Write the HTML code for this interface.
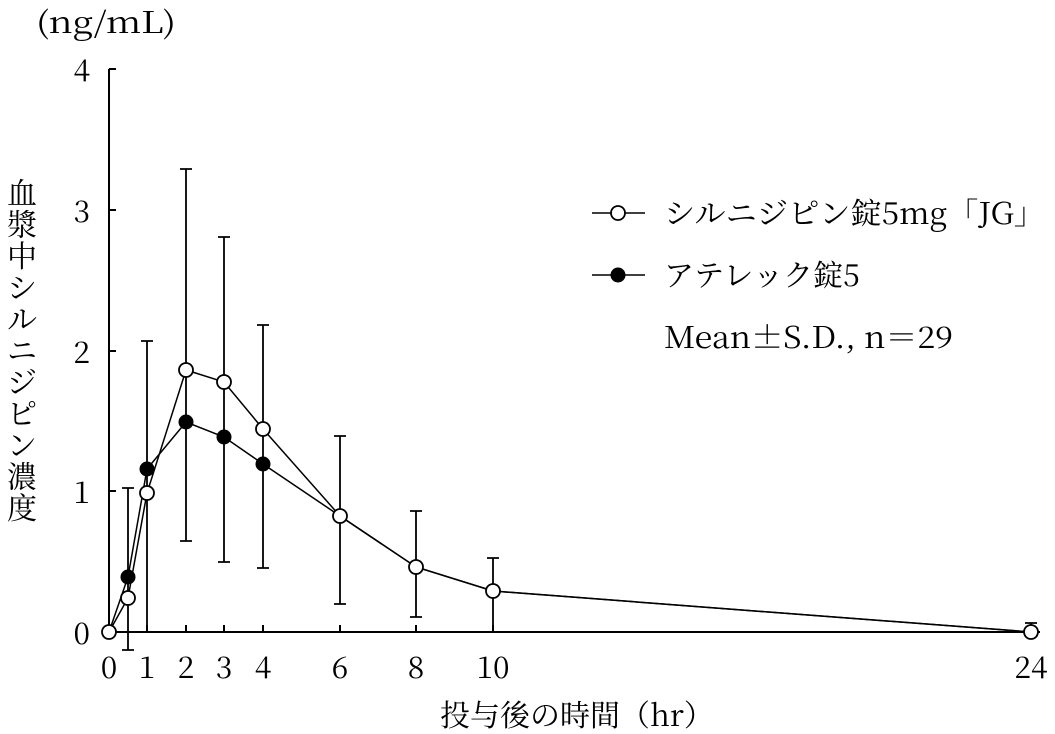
<!DOCTYPE html>
<html><head><meta charset="utf-8"><style>body{margin:0;background:#fff}svg{display:block}text{font-family:"Noto Serif CJK SC","Liberation Serif",serif;fill:#000}</style></head><body>
<svg width="1055" height="734" xmlns="http://www.w3.org/2000/svg">
<g stroke="#000" stroke-width="2" fill="none">
<line x1="109" y1="69" x2="109" y2="632"/>
<line x1="109" y1="632" x2="1040" y2="632"/>
<line x1="109" y1="69" x2="116" y2="69"/><line x1="109" y1="210" x2="116" y2="210"/><line x1="109" y1="351" x2="116" y2="351"/><line x1="109" y1="491" x2="116" y2="491"/>
<line x1="147" y1="632" x2="147" y2="625"/><line x1="186" y1="632" x2="186" y2="625"/><line x1="224" y1="632" x2="224" y2="625"/><line x1="263" y1="632" x2="263" y2="625"/><line x1="340" y1="632" x2="340" y2="625"/><line x1="416" y1="632" x2="416" y2="625"/><line x1="493" y1="632" x2="493" y2="625"/><line x1="1031" y1="632" x2="1031" y2="625"/>
</g>
<g stroke="#000" stroke-width="1.8">
<path d="M128 488V650M122 488H134M122 650H134"/>
<path d="M147 341V632M141 341H153"/>
<path d="M186 169V541M180 169H192M180 541H192"/>
<path d="M224 237V562M218 237H230M218 562H230"/>
<path d="M263 325V568M257 325H269M257 568H269"/>
<path d="M340 436V604M334 436H346M334 604H346"/>
<path d="M416 511V617M410 511H422M410 617H422"/>
<path d="M493 558V632M487 558H499"/>
<path d="M1031 623V632M1025 623H1037"/>
</g>
<g stroke="#000" stroke-width="1.5" fill="none">
<polyline points="109,632 128,577 147,469 186,422 224,437 263,464 340,516 416,567 493,591 1031,632"/>
<polyline points="109,632 128,598 147,493 186,370 224,382 263,429 340,516 416,567 493,591 1031,632"/>
</g>
<g fill="#000"><circle cx="128" cy="577" r="7.5"/><circle cx="147" cy="469" r="7.5"/><circle cx="186" cy="422" r="7.5"/><circle cx="224" cy="437" r="7.5"/><circle cx="263" cy="464" r="7.5"/></g>
<g fill="#fff" stroke="#000" stroke-width="1.8"><circle cx="109" cy="632" r="7"/><circle cx="128" cy="598" r="7"/><circle cx="147" cy="493" r="7"/><circle cx="186" cy="370" r="7"/><circle cx="224" cy="382" r="7"/><circle cx="263" cy="429" r="7"/><circle cx="340" cy="516" r="7"/><circle cx="416" cy="567" r="7"/><circle cx="493" cy="591" r="7"/><circle cx="1031" cy="632" r="7"/></g>
<g font-size="30" text-anchor="end"><text x="90" y="81">4</text><text x="90" y="222">3</text><text x="90" y="363">2</text><text x="90" y="503">1</text><text x="90" y="644">0</text></g>
<g font-size="30" text-anchor="middle"><text x="109" y="678">0</text><text x="147" y="678">1</text><text x="186" y="678">2</text><text x="224" y="678">3</text><text x="263" y="678">4</text><text x="340" y="678">6</text><text x="416" y="678">8</text><text x="493" y="678">10</text><text x="1031" y="678">24</text></g>
<text x="36" y="33" font-size="30" textLength="140" lengthAdjust="spacingAndGlyphs">(ng/mL)</text>
<text x="440" y="726" font-size="30">投与後の時間（hr）</text>
<text font-size="30" text-anchor="middle"><tspan x="22" y="204">血</tspan><tspan x="22" y="235.5">漿</tspan><tspan x="22" y="267">中</tspan><tspan x="22" y="298.5">シ</tspan><tspan x="22" y="330">ル</tspan><tspan x="22" y="361.5">ニ</tspan><tspan x="22" y="393">ジ</tspan><tspan x="22" y="424.5">ピ</tspan><tspan x="22" y="456">ン</tspan><tspan x="22" y="487.5">濃</tspan><tspan x="22" y="519">度</tspan></text>
<line x1="592" y1="213" x2="645" y2="213" stroke="#000" stroke-width="1.5"/><circle cx="618" cy="213" r="7" fill="#fff" stroke="#000" stroke-width="1.8"/>
<line x1="592" y1="275" x2="645" y2="275" stroke="#000" stroke-width="1.5"/><circle cx="618" cy="275" r="7.5" fill="#000"/>
<text x="664" y="224" font-size="30" textLength="381" lengthAdjust="spacingAndGlyphs">シルニジピン錠5mg「JG」</text>
<text x="664" y="286" font-size="30">アテレック錠5</text>
<text x="664" y="348" font-size="30" textLength="289" lengthAdjust="spacingAndGlyphs">Mean±S.D., n＝29</text>
</svg></body></html>
